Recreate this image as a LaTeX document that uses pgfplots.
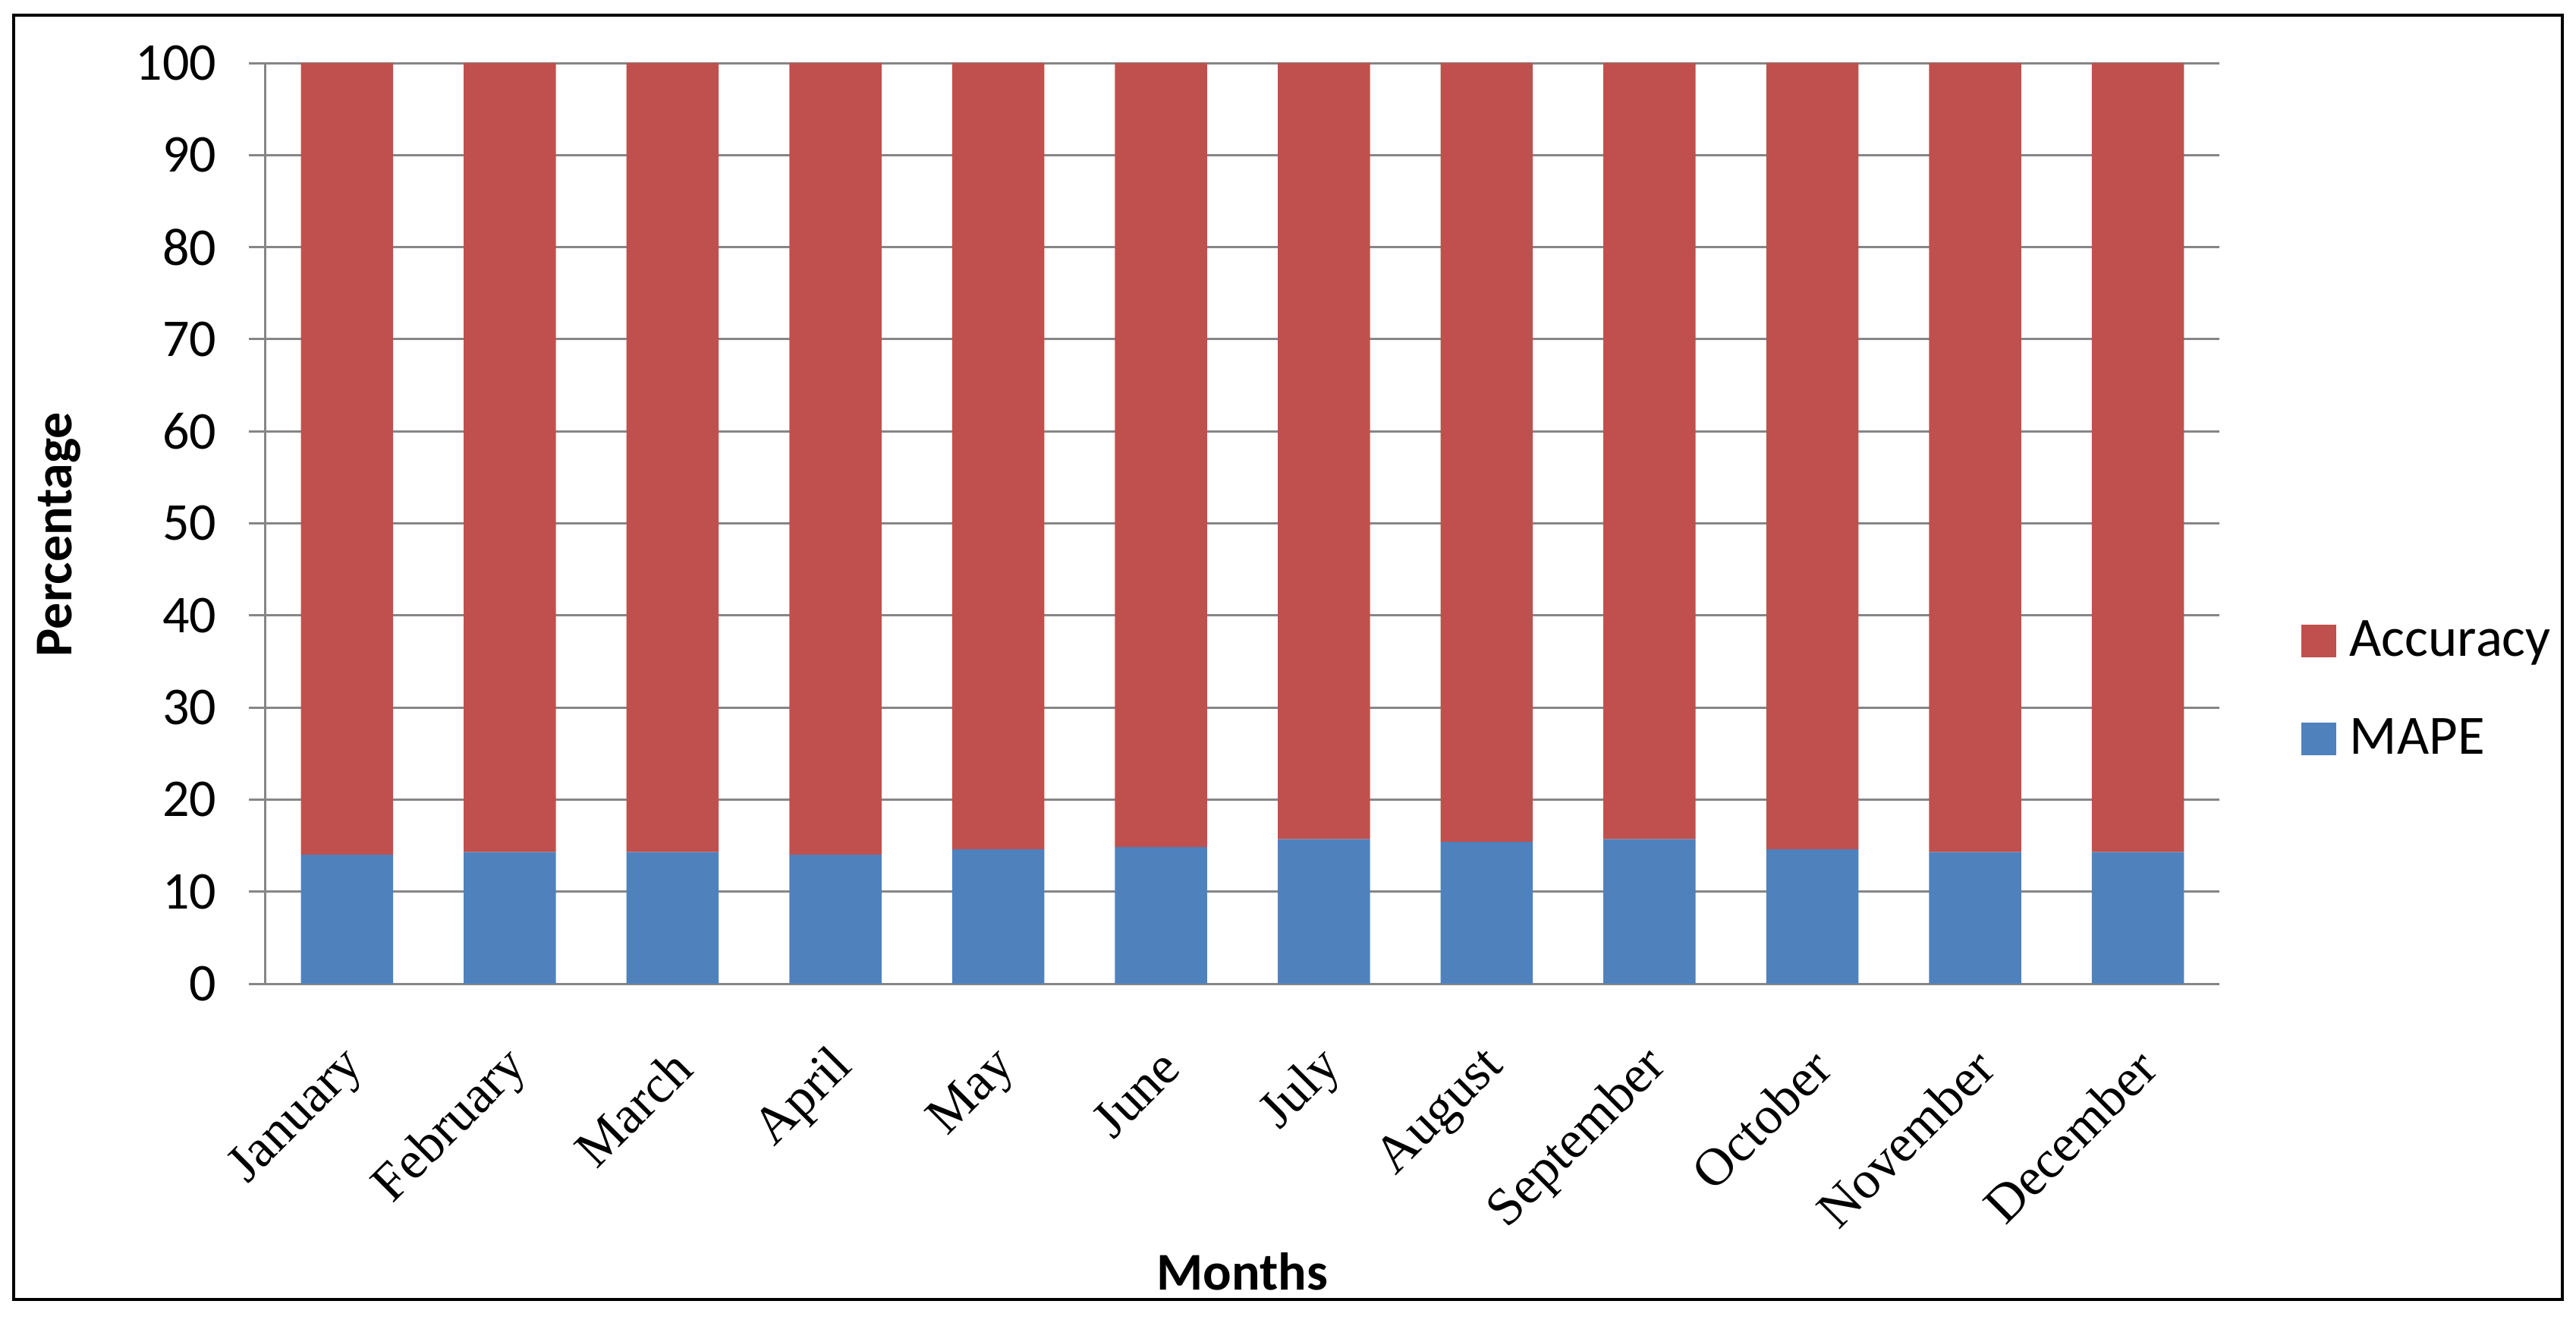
\documentclass[border=0pt]{standalone}
\usepackage{fontspec}
\setmainfont{Carlito}
\newfontfamily\seriffont{Liberation Serif}
\usepackage{pgfplots}
\usepackage{pgfplotstable}
\pgfplotsset{compat=1.18}
\definecolor{accred}{HTML}{C0504D}
\definecolor{mapeblue}{HTML}{4F81BD}
\definecolor{axgray}{HTML}{868686}
\pgfplotstableread{
x mape acc
0 14.00 86.00
1 14.30 85.70
2 14.30 85.70
3 14.00 86.00
4 14.60 85.40
5 14.85 85.15
6 15.70 84.30
7 15.40 84.60
8 15.70 84.30
9 14.60 85.40
10 14.30 85.70
11 14.30 85.70
}\datatable
\begin{document}
\begin{tikzpicture}
\useasboundingbox (-70pt,-89.2pt) rectangle (609pt,259.2pt);
\fill[white] (-70pt,-89.2pt) rectangle (609pt,259.2pt);
\draw[black, line width=0.8pt] (-66.4pt,-83.2pt) rectangle (605.4pt,255.2pt);
\begin{axis}[
  at={(0pt,0pt)}, anchor=south west,
  scale only axis,
  width=515pt, height=242.6pt,
  ybar stacked,
  bar width=24.3pt,
  xmin=-0.5, xmax=11.5,
  ymin=0, ymax=100,
  enlargelimits=false,
  axis lines*=left,
  axis line style={axgray, line width=0.6pt},
  ymajorgrids,
  grid style={axgray, line width=0.6pt},
  ytick={0,10,...,100},
  tick align=outside,
  major tick length=4.4pt,
  ytick style={axgray, line width=0.6pt},
  xtick=data,
  xtick style={draw=none},
  xticklabels={January,February,March,April,May,June,July,August,September,October,November,December},
  /pgf/number format/assume math mode=true,
  yticklabel style={font=\fontsize{14}{16}\selectfont, xshift=-5pt},
  xticklabel style={font=\seriffont\fontsize{14}{16}\selectfont, xshift=5pt, yshift=-13pt, rotate=45, anchor=east},
  xlabel={Months},
  ylabel={Percentage},
  every axis x label/.style={at={(rel axis cs:0.5,-0.333)}, anchor=base, font=\bfseries\fontsize{14}{16}\selectfont},
  every axis y label/.style={at={(rel axis cs:-0.1056,0.488)}, anchor=center, rotate=90, font=\bfseries\fontsize{14}{16}\selectfont},
  reverse legend,
  legend style={at={(rel axis cs:1.0416,0.319)}, anchor=west, draw=none, fill=none, inner sep=0pt,
    font=\fontsize{14.6}{17}\selectfont, row sep=12pt, column sep=2pt,
    nodes={inner sep=1.5pt}},
  legend cell align=left,
  legend image code/.code={\fill[#1] (0pt,-4.3pt) rectangle (9.2pt,4.3pt);},
]
\addplot[fill=mapeblue, draw=none] table[x=x, y=mape] {\datatable};
\addplot[fill=accred, draw=none] table[x=x, y=acc] {\datatable};
\legend{MAPE,Accuracy}
\end{axis}
\end{tikzpicture}
\end{document}
